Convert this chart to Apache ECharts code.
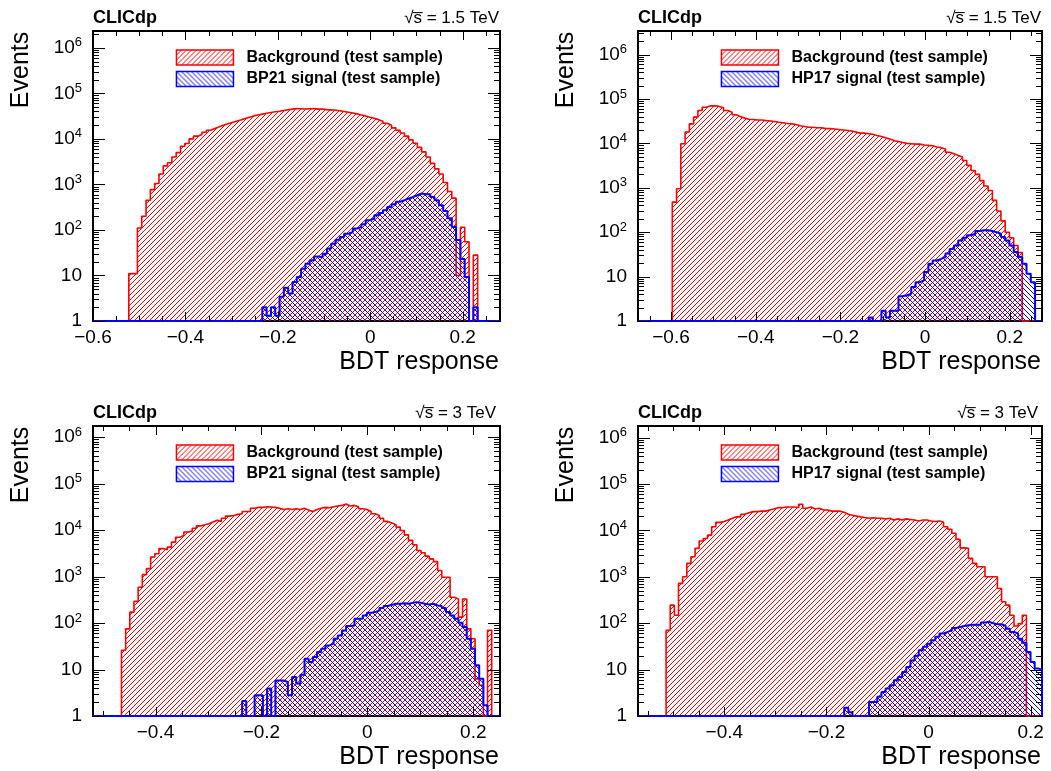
<!DOCTYPE html>
<html><head><meta charset="utf-8">
<script src="https://cdn.jsdelivr.net/npm/echarts@6/dist/echarts.min.js"></script>
<style>html,body{margin:0;padding:0;background:#fff}#c{width:1051px;height:771px}</style>
</head><body><div id="c"></div>
<script>
// ---------------- DATA ----------------
const energies = ['1.5 TeV', '1.5 TeV', '3 TeV', '3 TeV'];
const signalNames = ['BP21 signal (test sample)', 'HP17 signal (test sample)', 'BP21 signal (test sample)', 'HP17 signal (test sample)'];
const bgName = 'Background (test sample)';
const xMins = [-0.6, -0.678, -0.518, -0.569];
const xMaxs = [0.2808, 0.2762, 0.2504, 0.2221];
const yMaxExps = [6.37, 6.53, 6.24, 6.25];
const binStarts = [-0.5225, -0.597, -0.4642, -0.514];
const binWidths = [0.00932, 0.01008, 0.007853, 0.00811];

const bg1 = [11,11,110,200,450,770,1050,1700,2550,3000,
  4000,5000,6900,7900,10000,11500,12500,14000,15500,17000,
  18500,20000,21500,23000,24500,26000,28000,30000,32000,33500,
  35000,36500,38000,39500,40500,42000,43500,45000,46500,46000,
  45500,46000,46500,45000,45500,44000,43500,42500,41500,40000,
  38500,37000,35500,33500,32000,30000,28500,26500,24500,22000,
  20000,17500,15500,13500,11500,9500,8000,6500,5200,4000,
  2900,2200,1700,1100,700,500,10,115,55,0,28];
const sig1 = [0,0,0,0,0,0,0,0,0,0,
  0,0,0,0,0,0,0,0,0,0,
  0,0,0,0,0,0,0,0,0,0,
  0,2,1.3,2,1.3,3.4,5.4,4,7.2,9.3,
  14,18,21.6,26,25,30,39,50,61,70,
  83,90,107,116,133,163,178,210,236,270,
  320,365,415,450,490,530,580,630,610,610,
  530,450,350,260,180,116,60,23,9.3,0,2];

const bg2 = [475,950,9800,18000,27500,39000,55000,65000,70000,70000,
  68000,63000,55000,50000,44000,40000,37000,35000,34500,33500,
  33500,32500,32000,31000,29800,29000,28000,27500,26500,25000,
  24000,23000,23000,22500,22500,21500,21500,21000,20500,20000,
  19500,19000,18000,17000,17000,16500,16000,15000,14300,13300,
  12500,11500,11000,10500,10000,9800,9600,9600,9200,9000,
  8800,8300,8000,7500,6300,5800,5300,4900,4100,3200,
  2450,2000,1450,1100,870,520,300,180,100,75,
  50,35,0,0,0];
const sig2 = [0,0,0,0,0,0,0,0,0,0,
  0,0,0,0,0,0,0,0,0,0,
  0,0,0,0,0,0,0,0,0,0,
  0,0,0,0,0,0,0,0,0,0,
  0,0,0,0,0,0,1.2,0,0,1.7,
  1.2,1.7,1.7,3.6,3.8,4.1,5.8,7.5,8.2,12.7,
  19.5,23,25,27.5,33,42,50,65,75,85,
  92,106,110,110,106,100,92,78,65,50,
  36,27.5,19.5,11.6,7.5];

const bg3 = [26,75,172,293,590,1100,1480,2630,3100,4000,
  3800,4300,5500,7000,7700,9100,9500,11000,12300,13000,
  13700,14900,16200,15400,18000,20000,20700,21800,22500,25200,
  25200,29600,30800,30800,31900,31500,30800,29600,27700,28700,
  27700,28700,27700,29600,26900,25200,27700,29600,30800,30300,
  31900,33000,34000,36300,33000,34000,31900,28700,27700,25200,
  22500,20700,18000,15400,14300,13000,11600,9800,7900,6000,
  4850,3650,3250,2750,2400,2100,1350,970,970,360,
  330,134,330,75,46,6.3,4.6,0,70];
const sig3 = [0,0,0,0,0,0,0,0,0,0,
  0,0,0,0,0,0,0,0,0,0,
  0,0,0,0,0,0,0,0,0,2.1,
  0,0,2.8,2.8,0,3.9,0,5.8,5.8,5.4,
  2.8,6.9,5,7.7,17,14.5,18.5,23.7,28,33,
  36,46,54,69,86,89,123,123,146,166,
  172,187,210,232,248,260,260,268,260,272,
  282,272,260,250,260,240,232,210,172,146,
  123,101,82,46,28,12.3,6.3,1.7,0];

const bg4 = [70,245,148,720,1000,1950,2700,4100,5900,6700,
  7900,12000,14900,15500,16700,18300,19600,19600,22200,24000,
  25400,25400,26000,26000,27500,29000,30900,30900,32000,32000,
  32000,30900,36500,30000,32000,29000,30000,27500,27500,26000,
  26000,26000,24500,22200,21300,20300,19600,19000,18300,18800,
  18300,18300,17700,18300,16700,17700,16700,17700,17200,16700,
  16000,16700,16700,16000,15500,16000,14900,12000,10600,8700,
  6400,4200,4100,2500,1950,1650,1650,1000,1000,1000,
  560,290,245,148,87,98,148,0,0,0,0];
const sig4 = [0,0,0,0,0,0,0,0,0,0,
  0,0,0,0,0,0,0,0,0,0,
  0,0,0,0,0,0,0,0,0,0,
  0,0,0,0,0,0,0,0,0,0,
  0,0,0,1.5,1.2,0,0,0,0,2,
  2,2.6,3.3,3.9,4.6,5.9,6.9,8.9,11.4,15.8,
  20,26,31,36,43,51,60,65,70,79,
  83,87,90,93,93,93,103,107,100,95,
  95,87,76,65,60,46,38,24,14.6,10.5,10];

const bgCounts = [bg1, bg2, bg3, bg4];
const sigCounts = [sig1, sig2, sig3, sig4];

const xMajorTicks = [-0.6, -0.4, -0.2, 0, 0.2];
const xMinorTicks = [-0.65, -0.55, -0.5, -0.45, -0.35, -0.3, -0.25, -0.15, -0.1, -0.05, 0.05, 0.1, 0.15, 0.25];
const yMajorTicks = [1, 10, 100, 1000, 10000, 100000, 1000000];
const yMinorMantissas = [2, 3, 4, 5, 6, 7, 8, 9];

// ---------------- LAYOUT / STYLE ----------------
const FONT = '"Liberation Sans", Arial, Helvetica, sans-serif';
const gridBoxes = [
  {left: 93, top: 31, width: 407, height: 290},
  {left: 638, top: 31, width: 404, height: 290},
  {left: 93, top: 426, width: 407, height: 290},
  {left: 638, top: 426, width: 404, height: 290}
];
const RED = '#ff0000', BLUE = '#0000ff';

function hatch(color, dir, size) {
  const c = document.createElement('canvas');
  c.width = size; c.height = size;
  const g = c.getContext('2d');
  g.fillStyle = color;
  for (let i = 0; i < size; i++) {
    const y = dir === '/' ? size - 1 - i : i;
    g.fillRect(i, y, 1, 1);
  }
  return {image: c, repeat: 'repeat'};
}
const bgFill = hatch(RED, '/', 5);
const sigFill = hatch(BLUE, '\\', 5);

function histData(counts, start, w, xmin, xmax) {
  const pts = [[xmin, 1]];
  let last = 1;
  for (let i = 0; i < counts.length; i++) {
    const x0 = start + i * w;
    if (x0 >= xmax) break;
    last = Math.max(counts[i], 1);
    pts.push([Math.max(x0, xmin), last]);
  }
  const xEnd = Math.min(start + counts.length * w, xmax);
  pts.push([xEnd, last]);
  pts.push([xEnd, 1]);
  pts.push([xmax, 1]);
  return pts;
}

function fmtX(v) {
  if (Math.abs(v) < 1e-9) return '0';
  return (v < 0 ? '\u2212' : '') + String(Math.abs(v));
}
function fmtY(v) {
  const e = Math.log10(v);
  const r = Math.round(e);
  if (Math.abs(e - r) > 1e-6) return '';
  if (r === 0) return '{b|1}';
  if (r === 1) return '{b|10}';
  return '{b|10}{s|' + r + '}';
}

const grid = [], xAxis = [], yAxis = [], series = [], legend = [], graphic = [];

for (let p = 0; p < 4; p++) {
  const gb = gridBoxes[p];
  const xmin = xMins[p], xmax = xMaxs[p];
  const ymax = Math.pow(10, yMaxExps[p]);
  grid.push({left: gb.left, top: gb.top, width: gb.width, height: gb.height,
    show: true, borderColor: '#000', borderWidth: 2, backgroundColor: 'transparent'});
  const majors = xMajorTicks.filter(t => t >= xmin - 1e-9 && t <= xmax + 1e-9);
  xAxis.push({type: 'value', gridIndex: p, min: xmin, max: xmax,
    axisLine: {show: false}, axisTick: {show: false}, splitLine: {show: false},
    axisLabel: {customValues: majors, formatter: fmtX, margin: 7, color: '#000',
      fontFamily: FONT, fontSize: 19}});
  yAxis.push({type: 'log', logBase: 10, gridIndex: p, min: 1, max: ymax,
    axisLine: {show: false}, axisTick: {show: false}, splitLine: {show: false},
    axisLabel: {formatter: fmtY, margin: 11, color: '#000', showMaxLabel: false,
      rich: {b: {fontFamily: FONT, fontSize: 19, color: '#000'},
             s: {fontFamily: FONT, fontSize: 13, color: '#000', padding: [0, 0, 10, 0]}}}});

  series.push({type: 'line', name: 'bg' + p, xAxisIndex: p, yAxisIndex: p, step: 'end',
    data: histData(bgCounts[p], binStarts[p], binWidths[p], xmin, xmax),
    showSymbol: false, clip: false, z: 2,
    lineStyle: {color: RED, width: 1.6},
    areaStyle: {color: bgFill, origin: 'start', opacity: 1}, silent: true});
  series.push({type: 'line', name: 'sig' + p, xAxisIndex: p, yAxisIndex: p, step: 'end',
    data: histData(sigCounts[p], binStarts[p], binWidths[p], xmin, xmax),
    showSymbol: false, clip: false, z: 4,
    lineStyle: {color: BLUE, width: 2},
    areaStyle: {color: sigFill, origin: 'start', opacity: 1}, silent: true});
  series.push({type: 'bar', name: bgName, xAxisIndex: p, yAxisIndex: p, data: [],
    itemStyle: {color: bgFill, borderColor: RED, borderWidth: 1.5}});
  series.push({type: 'bar', name: signalNames[p], xAxisIndex: p, yAxisIndex: p, data: [],
    itemStyle: {color: sigFill, borderColor: BLUE, borderWidth: 1.5}});

  const tickData = [];
  majors.forEach(t => tickData.push([t, 1, 0]));
  xMinorTicks.filter(t => t > xmin && t < xmax).forEach(t => tickData.push([t, 1, 1]));
  yMajorTicks.forEach(d => tickData.push([xmin, d, 2]));
  yMajorTicks.forEach(d => yMinorMantissas.forEach(m => { if (m * d < ymax) tickData.push([xmin, m * d, 3]); }));
  series.push({type: 'custom', name: 'ticks' + p, xAxisIndex: p, yAxisIndex: p, z: 10, silent: true,
    clip: false, data: tickData,
    renderItem: function (params, api) {
      const kind = api.value(2);
      const cs = params.coordSys;
      const pt = api.coord([api.value(0), api.value(1)]);
      const st = {stroke: '#000', lineWidth: 1};
      if (kind <= 1) {
        const x = Math.round(pt[0]) + 0.5;
        const len = kind === 0 ? 9 : 5;
        const b = cs.y + cs.height, t = cs.y;
        return {type: 'group', children: [
          {type: 'line', shape: {x1: x, y1: b, x2: x, y2: b - len}, style: st},
          {type: 'line', shape: {x1: x, y1: t, x2: x, y2: t + len}, style: st}]};
      } else {
        const y = Math.round(pt[1]) + 0.5;
        const len = kind === 2 ? 12 : 6;
        const l = cs.x, r = cs.x + cs.width;
        return {type: 'group', children: [
          {type: 'line', shape: {x1: l, y1: y, x2: l + len, y2: y}, style: st},
          {type: 'line', shape: {x1: r, y1: y, x2: r - len, y2: y}, style: st}]};
      }
    }});

  legend.push({orient: 'vertical', left: gb.left + 82.7, top: gb.top + 18.3, padding: 0,
    itemWidth: 57, itemHeight: 15, itemGap: 5, selectedMode: false,
    data: [
      {name: bgName, icon: 'rect', itemStyle: {color: bgFill, borderColor: RED, borderWidth: 1.5}},
      {name: signalNames[p], icon: 'rect', itemStyle: {color: sigFill, borderColor: BLUE, borderWidth: 1.5}}],
    textStyle: {fontFamily: FONT, fontWeight: 'bold', fontSize: 16, color: '#000', padding: [0, 0, 0, 8]}});

  const right = gb.left + gb.width;
  graphic.push({type: 'text', x: gb.left, y: gb.top - 12.5,
    style: {text: 'CLICdp', fill: '#000', font: 'bold 18px ' + FONT, align: 'left', verticalAlign: 'middle'}});
  graphic.push({type: 'text', x: (p === 2 || p === 3) ? right - 4 : right - 1, y: gb.top - 12.5,
    style: {text: '\u221As\u0305 = ' + energies[p], fill: '#000', font: '17px ' + FONT, align: 'right', verticalAlign: 'middle'}});
  graphic.push({type: 'text', x: gb.left - 71.5, y: gb.top + 0.7, rotation: Math.PI / 2,
    style: {text: 'Events', fill: '#000', font: '25px ' + FONT, align: 'right', verticalAlign: 'middle'}});
  graphic.push({type: 'text', x: right - 1, y: gb.top + gb.height + 41.5,
    style: {text: 'BDT response', fill: '#000', font: '25px ' + FONT, align: 'right', verticalAlign: 'middle'}});
}

const chart = echarts.init(document.getElementById('c'), null, {renderer: 'canvas'});
chart.setOption({
  animation: false,
  backgroundColor: '#fff',
  grid, xAxis, yAxis, series, legend, graphic
});
</script>
</body></html>
